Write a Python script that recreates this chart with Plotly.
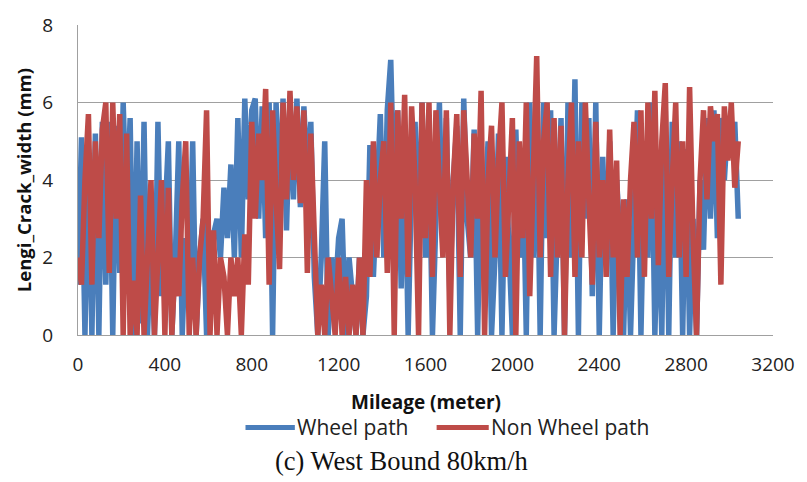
import plotly.graph_objects as go

mileage = list(range(0, 3041, 16))

wheel_path = [
    1.3, 5.1, 0, 4.8, 0, 5.2, 0, 5.5, 1.3, 5.5,
    0, 5.4, 1.6, 6.0, 3.0, 5.6, 0, 5.0, 0.3, 5.5,
    0, 2.5, 0, 5.5, 1.0, 3.0, 5.0, 0, 2.0, 5.0,
    0, 2.5, 1.0, 5.0, 0, 2.0, 3.0, 0, 2.0, 2.6,
    3.0, 2.0, 3.8, 2.5, 4.4, 2.0, 5.6, 2.0, 6.1, 3.5,
    5.8, 6.1, 3.0, 5.9, 2.5, 6.0, 0, 6.0, 3.2, 6.1,
    2.7, 6.0, 3.5, 6.1, 3.3, 5.9, 4.0, 5.5, 1.5, 0,
    2.0, 5.0, 0, 2.0, 1.0, 2.5, 3.0, 0, 2.0, 1.0,
    0, 2.0, 0, 1.0, 4.9, 1.5, 4.0, 5.7, 2.0, 5.8,
    7.1, 3.5, 5.8, 1.2, 5.0, 0, 4.0, 5.5, 2.0, 6.0,
    2.0, 5.0, 0, 3.0, 6.0, 2.2, 5.6, 1.0, 4.0, 5.4,
    0, 6.1, 3.0, 2.0, 5.3, 0, 4.4, 3.0, 5.0, 0,
    2.0, 5.2, 0, 4.6, 2.0, 0, 5.3, 2.0, 4.8, 0,
    6.0, 2.0, 5.9, 0, 6.0, 2.5, 5.8, 0, 3.0, 5.6,
    0, 6.0, 2.0, 6.6, 0, 6.0, 3.0, 5.6, 1.0, 6.0,
    0, 4.6, 2.0, 5.0, 0, 4.0, 2.5, 0, 3.5, 0,
    3.0, 5.8, 0, 4.5, 2.0, 6.0, 0, 3.5, 0, 5.8,
    0, 5.5, 2.0, 5.0, 0, 4.8, 0, 3.0, 0, 4.0,
    2.2, 5.6, 3.0, 5.8, 2.5, 5.6, 4.0, 5.5, 5.0, 5.5, 3.0,
]

non_wheel_path = [
    2.0, 1.3, 4.0, 5.7, 1.3, 5.0, 2.5, 5.3, 6.0, 1.6,
    6.0, 3.0, 5.7, 0, 5.2, 0, 1.4, 0, 3.6, 0,
    2.0, 4.0, 0, 2.0, 4.0, 0, 3.8, 0, 2.0, 1.0,
    3.5, 5.0, 0, 2.0, 0, 2.0, 3.0, 5.8, 0, 2.7,
    0, 2.0, 1.5, 0, 2.0, 1.0, 2.0, 0, 2.6, 1.3,
    5.5, 3.0, 5.2, 4.0, 6.35, 1.3, 5.8, 3.5, 1.7, 6.0,
    3.5, 6.3, 4.0, 5.9, 3.4, 5.8, 1.6, 5.2, 2.0, 0,
    1.3, 0, 2.0, 1.0, 0, 2.0, 0, 1.5, 0, 1.3,
    0, 2.0, 0, 4.0, 1.5, 5.0, 2.0, 4.0, 5.0, 1.6,
    6.0, 0, 5.8, 3.0, 6.2, 1.5, 5.9, 4.0, 0, 6.0,
    2.5, 6.0, 1.5, 5.8, 3.5, 2.0, 5.8, 0, 4.0, 5.7,
    1.5, 5.8, 4.0, 2.0, 5.2, 3.0, 6.3, 0, 4.0, 5.4,
    2.0, 4.5, 6.0, 1.5, 3.5, 5.6, 0, 5.0, 2.5, 6.0,
    1.0, 4.0, 7.2, 2.0, 5.0, 6.0, 1.5, 5.6, 2.0, 5.4,
    0, 4.0, 6.0, 1.5, 5.0, 2.0, 6.0, 3.5, 1.3, 5.5,
    2.0, 4.0, 1.5, 5.3, 2.0, 4.5, 0, 3.5, 1.5, 4.0,
    5.5, 2.0, 5.8, 1.5, 6.0, 3.0, 6.3, 1.8, 5.0, 6.5,
    1.5, 4.0, 6.0, 2.0, 5.0, 1.5, 6.4, 2.5, 0, 4.0,
    5.8, 3.5, 5.9, 5.0, 5.7, 1.3, 5.9, 4.5, 6.0, 3.8, 5.0,
]

x_ticks = [0, 400, 800, 1200, 1600, 2000, 2400, 2800, 3200]
y_ticks = [0, 2, 4, 6, 8]

BLUE = "#4A7EBB"
RED = "#BE4B48"
SANS = "Open Sans, Liberation Sans, sans-serif"

fig = go.Figure()
fig.add_trace(go.Scatter(x=mileage, y=wheel_path, mode="lines", name="Wheel path",
                         line=dict(color=BLUE, width=5.5), showlegend=False))
fig.add_trace(go.Scatter(x=mileage, y=non_wheel_path, mode="lines", name="Non Wheel path",
                         line=dict(color=RED, width=5.5), showlegend=False))

tick_font = dict(family=SANS, size=19, color="#222222")

# manual legend (paper coordinates)
leg_y = -0.298
shapes = [
    dict(type="line", xref="paper", yref="paper", x0=0.241, x1=0.312, y0=leg_y, y1=leg_y,
         line=dict(color=BLUE, width=5)),
    dict(type="line", xref="paper", yref="paper", x0=0.516, x1=0.591, y0=leg_y, y1=leg_y,
         line=dict(color=RED, width=5)),
]

fig.update_layout(
    width=807, height=482,
    margin=dict(l=78, r=27, t=16, b=147),
    paper_bgcolor="white", plot_bgcolor="white",
    showlegend=False,
    shapes=shapes,
    xaxis=dict(range=[0, 3200], tickvals=x_ticks, ticktext=[str(v) for v in x_ticks],
               showgrid=False, zeroline=False, showline=True, linecolor="#A0A0A0", linewidth=1,
               ticks="", tickfont=tick_font, ticklabelstandoff=12),
    yaxis=dict(range=[0, 8], tickvals=y_ticks, showgrid=True, gridcolor="#A0A0A0", gridwidth=1,
               zeroline=False, showline=True, linecolor="#A0A0A0", linewidth=1,
               ticks="", tickfont=tick_font, ticklabelstandoff=20),
    annotations=[
        dict(text="<b>Lengi_Crack_width (mm)</b>", xref="paper", yref="paper",
             x=-0.0783, y=0.498, xanchor="center", yanchor="middle", textangle=-90, showarrow=False,
             font=dict(family=SANS, size=18.5, color="#111111")),
        dict(text="<b>Mileage (meter)</b>", xref="paper", yref="paper",
             x=0.5014, y=-0.216, xanchor="center", yanchor="middle", showarrow=False,
             font=dict(family=SANS, size=19, color="#111111")),
        dict(text="Wheel path", xref="paper", yref="paper",
             x=0.3125, y=leg_y, xanchor="left", yanchor="middle", showarrow=False,
             font=dict(family=SANS, size=21, color="#222222")),
        dict(text="Non Wheel path", xref="paper", yref="paper",
             x=0.5915, y=leg_y, xanchor="left", yanchor="middle", showarrow=False,
             font=dict(family=SANS, size=21, color="#222222")),
        dict(text="(c) West Bound 80km/h", xref="paper", yref="paper",
             x=0.4658, y=-0.4075, xanchor="center", yanchor="middle", showarrow=False,
             font=dict(family="Liberation Serif, DejaVu Serif, serif", size=26.5, color="#111111")),
    ],
)

fig.write_html("out.html")
